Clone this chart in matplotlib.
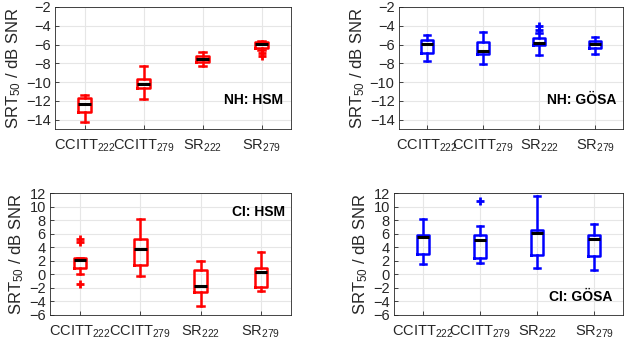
import matplotlib
matplotlib.use("Agg")
import matplotlib.pyplot as plt

plt.rcParams['font.family'] = ['Liberation Sans', 'DejaVu Sans']
plt.rcParams['mathtext.default'] = 'regular'

categories = ['CCITT$_{222}$', 'CCITT$_{279}$', 'SR$_{222}$', 'SR$_{279}$']

# NH: HSM
nh_hsm_whislo = [-14.3, -11.75, -8.26, -6.57]
nh_hsm_q1 = [-13.22, -10.66, -7.9, -6.32]
nh_hsm_med = [-12.3, -10.17, -7.55, -5.96]
nh_hsm_q3 = [-11.73, -9.68, -7.27, -5.75]
nh_hsm_whishi = [-11.41, -8.34, -6.8, -5.58]
nh_hsm_fliers = [[], [], [], [-6.85, -7.25]]

# NH: GÖSA
nh_gosa_whislo = [-7.73, -8.08, -7.1, -6.99]
nh_gosa_q1 = [-6.92, -7.02, -6.03, -6.42]
nh_gosa_med = [-5.9, -6.64, -5.86, -5.93]
nh_gosa_q3 = [-5.5, -5.75, -5.35, -5.57]
nh_gosa_whishi = [-4.97, -4.62, -4.8, -5.18]
nh_gosa_fliers = [[], [], [-3.98, -4.44], []]

# CI: HSM
ci_hsm_whislo = [0.07, -0.2, -4.6, -2.5]
ci_hsm_q1 = [1.0, 1.4, -2.6, -1.85]
ci_hsm_med = [2.1, 3.8, -1.7, 0.35]
ci_hsm_q3 = [2.4, 5.25, 0.65, 1.0]
ci_hsm_whishi = [2.4, 8.2, 2.0, 3.3]
ci_hsm_fliers = [[5.3, 4.85, -1.45], [], [], []]

# CI: GÖSA
ci_gosa_whislo = [1.5, 1.65, 1.0, 0.65]
ci_gosa_q1 = [3.0, 2.5, 2.9, 2.8]
ci_gosa_med = [5.5, 5.1, 6.1, 5.25]
ci_gosa_q3 = [5.85, 5.85, 6.55, 5.85]
ci_gosa_whishi = [8.25, 7.2, 11.6, 7.45]
ci_gosa_fliers = [[], [10.9], [], []]

panels = [
    dict(pos=[55/629, 1-129/351, 236/629, 122/351], lo=nh_hsm_whislo, q1=nh_hsm_q1, med=nh_hsm_med,
         q3=nh_hsm_q3, hi=nh_hsm_whishi, fl=nh_hsm_fliers, color='#ff0000', ylim=(-15, -2),
         yticks=list(range(-14, -1, 2)), label='NH: HSM', lx=0.966, ly=0.238),
    dict(pos=[398.7/629, 1-129/351, 224.6/629, 122/351], lo=nh_gosa_whislo, q1=nh_gosa_q1, med=nh_gosa_med,
         q3=nh_gosa_q3, hi=nh_gosa_whishi, fl=nh_gosa_fliers, color='#0000ff', ylim=(-15, -2),
         yticks=list(range(-14, -1, 2)), label='NH: GÖSA', lx=0.967, ly=0.238),
    dict(pos=[50/629, 1-315/351, 241/629, 121.7/351], lo=ci_hsm_whislo, q1=ci_hsm_q1, med=ci_hsm_med,
         q3=ci_hsm_q3, hi=ci_hsm_whishi, fl=ci_hsm_fliers, color='#ff0000', ylim=(-6, 12),
         yticks=list(range(-6, 13, 2)), label='CI: HSM', lx=0.975, ly=0.85),
    dict(pos=[394/629, 1-315/351, 229/629, 121.7/351], lo=ci_gosa_whislo, q1=ci_gosa_q1, med=ci_gosa_med,
         q3=ci_gosa_q3, hi=ci_gosa_whishi, fl=ci_gosa_fliers, color='#0000ff', ylim=(-6, 12),
         yticks=list(range(-6, 13, 2)), label='CI: GÖSA', lx=0.955, ly=0.145),
]

fig = plt.figure(figsize=(6.29, 3.51), dpi=100)
for p in panels:
    ax = fig.add_axes(p['pos'])
    stats = []
    for i in range(4):
        stats.append(dict(whislo=p['lo'][i], q1=p['q1'][i], med=p['med'][i], q3=p['q3'][i],
                          whishi=p['hi'][i], fliers=p['fl'][i]))
    c = p['color']
    ax.bxp(stats, positions=[1, 2, 3, 4], widths=0.21, showfliers=True,
           boxprops=dict(color=c, linewidth=1.8),
           whiskerprops=dict(color=c, linewidth=1.8),
           capprops=dict(color=c, linewidth=1.8),
           medianprops=dict(color='black', linewidth=2.2),
           flierprops=dict(marker='+', markeredgecolor=c, markersize=6, markeredgewidth=2.0,
                           linestyle='none'),
           zorder=3)
    ax.set_xlim(0.5, 4.5)
    ax.set_ylim(*p['ylim'])
    ax.set_yticks(p['yticks'])
    ax.set_xticks([1, 2, 3, 4])
    ax.set_xticklabels(categories)
    ax.grid(True, color='#e6e6e6', linewidth=0.8, zorder=0)
    ax.set_axisbelow(True)
    ax.tick_params(direction='in', length=3, width=0.6, colors='#262626', labelsize=10.5,
                   top=False, right=False)
    ax.tick_params(axis='x', pad=6)
    ax.tick_params(axis='y', pad=3)
    for s in ax.spines.values():
        s.set_color('#262626')
        s.set_linewidth(0.6)
    ax.set_ylabel('SRT$_{50}$ / dB SNR', fontsize=12, color='#262626', labelpad=2)
    ax.text(p['lx'], p['ly'], p['label'], transform=ax.transAxes, ha='right', va='center',
            fontsize=10, fontweight='bold', color='black')

fig.savefig('out.png', dpi=100)
